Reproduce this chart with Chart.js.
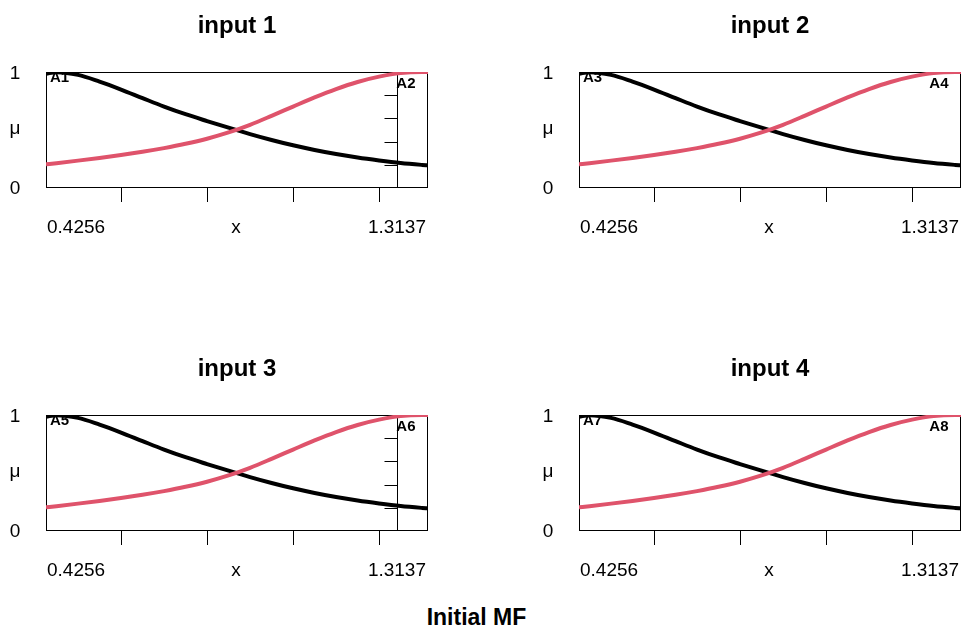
<!DOCTYPE html>
<html>
<head>
<meta charset="utf-8">
<script src="https://cdn.jsdelivr.net/npm/chart.js@4.4.1/dist/chart.umd.min.js"></script>
<style>
  html, body { margin: 0; padding: 0; background: #fff; overflow: hidden; }
  body { width: 963px; height: 632px; position: relative; font-family: "Liberation Sans", Arial, sans-serif; }
  canvas { position: absolute; }
  #caption { position: absolute; left: 0; top: 604px; width: 953px; text-align: center;
             font-size: 23px; line-height: 26px; font-weight: bold; color: #000; }
</style>
</head>
<body>
<canvas id="p1" width="430" height="250" style="left:0;top:0"></canvas>
<canvas id="p2" width="430" height="250" style="left:533px;top:0"></canvas>
<canvas id="p3" width="430" height="250" style="left:0;top:343px"></canvas>
<canvas id="p4" width="430" height="250" style="left:533px;top:343px"></canvas>
<div id="caption">Initial MF</div>

<script>
// data
const inputTitles = ['input 1', 'input 2', 'input 3', 'input 4'];
const mfNames = [['A1', 'A2'], ['A3', 'A4'], ['A5', 'A6'], ['A7', 'A8']];
const xRange = [0.4256, 1.3137];
const rangeLabels = ['0.4256', '1.3137'];
const xTicks = [0.6, 0.8, 1.0, 1.2];
const guideTicks = [0.2, 0.4, 0.6, 0.8];

const xVals  = [0.4256, 0.45, 0.5, 0.55, 0.6, 0.65, 0.7, 0.75, 0.8, 0.85, 0.9, 0.95, 1.0, 1.05, 1.1, 1.15, 1.2, 1.25, 1.3, 1.3137];
const lowMF  = [0.985, 0.998, 0.975, 0.917, 0.849, 0.775, 0.702, 0.636, 0.577, 0.52, 0.465, 0.414, 0.368, 0.328, 0.293, 0.263, 0.238, 0.216, 0.199, 0.195];
const highMF = [0.204, 0.214, 0.236, 0.259, 0.284, 0.312, 0.344, 0.381, 0.425, 0.479, 0.545, 0.622, 0.702, 0.781, 0.853, 0.914, 0.96, 0.991, 1.0, 1.0];

// the extra vertical axis shows up only on inputs 1 and 3
const guideX = [1.2416, null, 1.2416, null];

const RED = '#DF536B';
const FONT = '"Liberation Sans", Arial, sans-serif';

const mfPanel = {
    id: 'mfPanel',
    beforeDatasetsDraw(chart, args, opts) {
        const { ctx, chartArea: a, scales: { x, y } } = chart;
        ctx.save();
        ctx.strokeStyle = '#000';
        ctx.lineWidth = 1;

        // box
        ctx.strokeRect(a.left + 0.5, a.top + 0.5, a.right - a.left - 1, a.bottom - a.top - 1);

        // bottom ticks (no labels on them)
        ctx.beginPath();
        xTicks.forEach(t => {
            const px = Math.round(x.getPixelForValue(t)) + 0.5;
            ctx.moveTo(px, a.bottom);
            ctx.lineTo(px, a.bottom + 14);
        });
        ctx.stroke();

        // extra axis inside the box
        if (opts.guide != null) {
            const gx = Math.round(x.getPixelForValue(opts.guide)) + 0.5;
            ctx.beginPath();
            ctx.moveTo(gx, a.top);
            ctx.lineTo(gx, a.bottom);
            guideTicks.forEach(t => {
                const py = Math.round(y.getPixelForValue(t)) + 0.5;
                ctx.moveTo(gx - 13, py);
                ctx.lineTo(gx, py);
            });
            ctx.stroke();
        }

        // x row: range + axis name
        ctx.fillStyle = '#000';
        ctx.font = '19px ' + FONT;
        ctx.textBaseline = 'middle';
        const ly = a.bottom + 40;
        ctx.textAlign = 'left';
        ctx.fillText(rangeLabels[0], a.left + 1, ly);
        ctx.textAlign = 'right';
        ctx.fillText(rangeLabels[1], a.right - 2, ly);
        ctx.textAlign = 'center';
        ctx.fillText('x', (a.left + a.right) / 2 - 1, ly);

        // y labels
        const lx = a.left - 31;
        ctx.fillText('1', lx, y.getPixelForValue(1) + 2);
        ctx.fillText('\u03bc', lx, y.getPixelForValue(0.5) - 1);
        ctx.fillText('0', lx, y.getPixelForValue(0) + 1);

        // MF names, under the curves
        ctx.font = 'bold 15px ' + FONT;
        ctx.textBaseline = 'alphabetic';
        ctx.textAlign = 'left';
        ctx.fillText(opts.names[0], a.left + 4, a.top + 10);
        ctx.fillText(opts.names[1], x.getPixelForValue(1.24), a.top + 16);
        ctx.restore();
    }
};

function makePanel(id, i) {
    return new Chart(document.getElementById(id), {
        type: 'line',
        data: {
            datasets: [
                {
                    data: xVals.map((v, k) => ({ x: v, y: highMF[k] })),
                    borderColor: RED,
                    borderWidth: 4,
                    pointRadius: 0,
                    cubicInterpolationMode: 'monotone',
                    order: 0
                },
                {
                    data: xVals.map((v, k) => ({ x: v, y: lowMF[k] })),
                    borderColor: '#000',
                    borderWidth: 4,
                    pointRadius: 0,
                    cubicInterpolationMode: 'monotone',
                    order: 1
                }
            ]
        },
        options: {
            responsive: false,
            animation: false,
            devicePixelRatio: 1,
            layout: { padding: { left: 46, right: 2, top: 12, bottom: 62 } },
            scales: {
                x: { type: 'linear', min: xRange[0], max: xRange[1], display: false },
                y: { min: 0, max: 1, display: false }
            },
            plugins: {
                legend: { display: false },
                tooltip: { enabled: false },
                title: {
                    display: true,
                    text: inputTitles[i],
                    fullSize: false,
                    color: '#000',
                    font: { family: FONT, size: 24, weight: 'bold', lineHeight: 1.2 },
                    padding: { top: 0, bottom: 31.2 }
                },
                mfPanel: { names: mfNames[i], guide: guideX[i] }
            }
        },
        plugins: [mfPanel]
    });
}

['p1', 'p2', 'p3', 'p4'].forEach((id, i) => makePanel(id, i));
</script>
</body>
</html>
